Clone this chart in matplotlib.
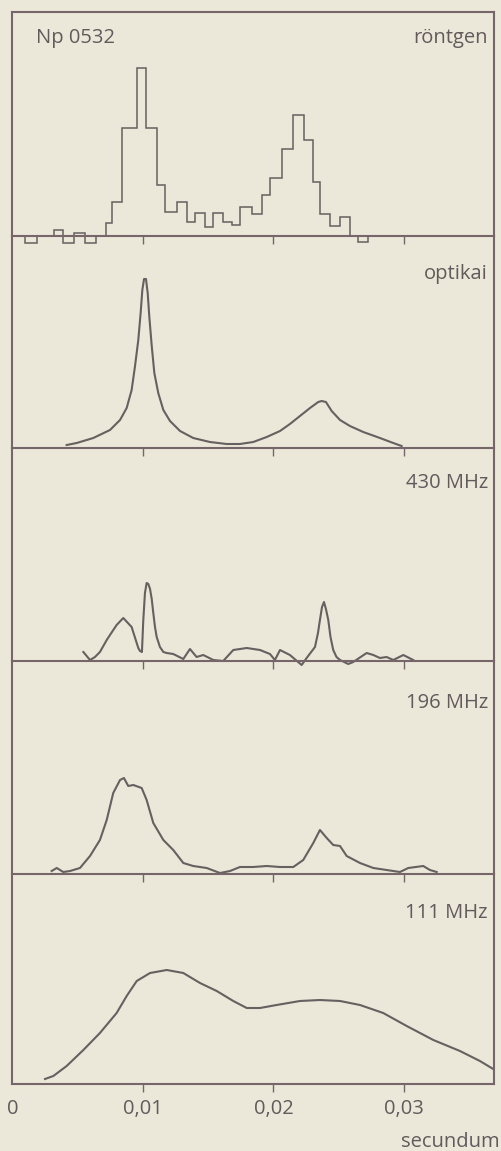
import matplotlib
matplotlib.use("Agg")
import matplotlib.pyplot as plt
import numpy as np

plt.rcParams['font.family'] = ['Open Sans', 'DejaVu Sans']

# ---------------- data (time in seconds, intensity in arbitrary units) -------------
xray_edges = [0.00096, 0.00188, 0.00318, 0.00387, 0.00471, 0.00556, 0.00640, 0.00716,
              0.00762, 0.00839, 0.00954, 0.01023, 0.01107, 0.01169, 0.01261, 0.01338,
              0.01398, 0.01475, 0.01536, 0.01613, 0.01682, 0.01743, 0.01835, 0.01912,
              0.01973, 0.02065, 0.02149, 0.02234, 0.02303, 0.02356, 0.02433, 0.02510,
              0.02586, 0.02648, 0.02724]
xray_counts = [-7, 0, 6, -7, 3, -7, 0, 13, 34, 108, 168, 108, 51, 24, 34, 14, 23, 9,
               23, 14, 11, 29, 22, 41, 58, 87, 121, 96, 54, 22, 10, 19, 0, -6]

opt_t = [0.00415, 0.00492, 0.00619, 0.00747, 0.00824, 0.00875, 0.00913, 0.00939,
         0.00964, 0.00982, 0.00995, 0.01008, 0.01023, 0.01036, 0.01048, 0.01067,
         0.01087, 0.01117, 0.01156, 0.01207, 0.01284, 0.01385, 0.01513, 0.01641,
         0.01743, 0.01845, 0.01948, 0.02050, 0.02126, 0.02203, 0.02280, 0.02343,
         0.02369, 0.02402, 0.02446, 0.02510, 0.02586, 0.02688, 0.02816, 0.02918,
         0.02982]
opt_v = [3, 5, 10, 18, 28, 40, 58, 82, 108, 135, 158, 169, 169, 155, 132, 102,
         75, 55, 38, 27, 17, 10, 6, 4, 4, 6, 11, 17, 24, 32, 40, 46,
         47, 46, 37, 28, 22, 16, 10, 5, 2]

r430_t = [0.00543, 0.00594, 0.00632, 0.00670, 0.00722, 0.00747, 0.00798, 0.00849,
          0.00913, 0.00964, 0.00977, 0.00992, 0.01002, 0.01015, 0.01028, 0.01041,
          0.01054, 0.01067, 0.01079, 0.01092, 0.01105, 0.01130, 0.01156, 0.01182,
          0.01232, 0.01309, 0.01360, 0.01411, 0.01462, 0.01539, 0.01615, 0.01692,
          0.01795, 0.01897, 0.01973, 0.02011, 0.02050, 0.02126, 0.02216, 0.02254,
          0.02318, 0.02341, 0.02356, 0.02372, 0.02387, 0.02402, 0.02420, 0.02437,
          0.02458, 0.02483, 0.02510, 0.02573, 0.02611, 0.02714, 0.02765, 0.02816,
          0.02867, 0.02918, 0.02995, 0.03071]
r430_v = [9, 1, 4, 9, 21, 26, 36, 43, 34, 13, 10, 9, 40, 68, 78, 77,
          72, 62, 48, 34, 24, 14, 9, 8, 7, 2, 12, 4, 6, 1, 0, 11,
          13, 11, 7, 1, 11, 6, -4, 3, 14, 28, 41, 54, 59, 52, 41, 24,
          11, 4, 1, -3, -1, 8, 6, 3, 4, 1, 6, 1]

r196_t = [0.00300, 0.00339, 0.00389, 0.00441, 0.00517, 0.00594, 0.00670, 0.00722,
          0.00772, 0.00824, 0.00854, 0.00887, 0.00926, 0.00990, 0.01028, 0.01079,
          0.01156, 0.01232, 0.01309, 0.01385, 0.01488, 0.01590, 0.01667, 0.01743,
          0.01845, 0.01948, 0.02050, 0.02152, 0.02228, 0.02305, 0.02356, 0.02408,
          0.02458, 0.02510, 0.02561, 0.02663, 0.02765, 0.02867, 0.02969, 0.03033,
          0.03148, 0.03199, 0.03251]
r196_v = [3, 6, 2, 3, 6, 18, 34, 54, 81, 94, 96, 88, 89, 86, 74, 51,
          34, 24, 11, 8, 6, 1, 3, 7, 7, 8, 7, 7, 14, 31, 44, 36,
          29, 28, 18, 11, 6, 4, 2, 6, 8, 4, 2]

r111_t = [0.00249, 0.00313, 0.00415, 0.00543, 0.00670, 0.00798, 0.00875, 0.00952,
          0.01054, 0.01182, 0.01309, 0.01437, 0.01565, 0.01692, 0.01795, 0.01897,
          0.02024, 0.02203, 0.02356, 0.02510, 0.02663, 0.02841, 0.03021, 0.03225,
          0.03429, 0.03582, 0.03684]
r111_v = [5, 8, 18, 34, 51, 71, 88, 103, 111, 114, 111, 101, 93, 83, 76, 76,
          79, 83, 84, 83, 79, 71, 58, 44, 33, 23, 15]

panel_labels = ["röntgen", "optikai", "430 MHz", "196 MHz", "111 MHz"]
source_name = "Np 0532"
tick_values = [0, 0.01, 0.02, 0.03]
tick_labels = ["0", "0,01", "0,02", "0,03"]
x_unit = "secundum"

# ---------------- style / layout ----------------
W, H = 502, 1151
bg = '#ebe7d9'
frame_c = '#76666a'
line_c = '#666060'
text_c = '#635a5c'
x_right = 0.0369
fs = 14.5

# panel edges in pixel rows (top, bottom)
rows = [(12, 236), (236, 448), (448, 661), (661, 874), (874, 1084)]
left_px, right_px = 12.5, 494

fig = plt.figure(figsize=(W / 100, H / 100), dpi=100, facecolor=bg)

axes = []
for i, (top, bot) in enumerate(rows):
    ax = fig.add_axes([left_px / W, 1 - bot / H, (right_px - left_px) / W, (bot - top) / H])
    ax.set_facecolor('none')
    ax.set_xlim(0, x_right)
    ax.set_ylim(0, bot - top)
    for s in ax.spines.values():
        s.set_color(frame_c)
        s.set_linewidth(1.5)
    if i > 0:
        ax.spines['top'].set_visible(False)
    ax.set_yticks([])
    ax.set_xticks(tick_values)
    ax.xaxis.get_major_ticks()[0].tick1line.set_visible(False)
    ax.tick_params(axis='x', direction='out', length=5.5, width=1.0, color=frame_c,
                   pad=5, labelsize=fs, labelcolor=text_c)
    if i < 4:
        ax.set_xticklabels([])
    else:
        ax.set_xticklabels(tick_labels)
    axes.append(ax)

lw = 1.5
axes[0].stairs(xray_counts, xray_edges, baseline=0, color=line_c, lw=1.1, clip_on=False)
axes[1].plot(opt_t, opt_v, color=line_c, lw=lw, clip_on=False, solid_joinstyle='round')
axes[2].plot(r430_t, r430_v, color=line_c, lw=lw, clip_on=False, solid_joinstyle='round')
axes[3].plot(r196_t, r196_v, color=line_c, lw=lw, clip_on=False, solid_joinstyle='round')
axes[4].plot(r111_t, r111_v, color=line_c, lw=lw, clip_on=False, solid_joinstyle='round')

# labels (pixel positions of baselines)
label_base = [43, 279, 488, 708, 918]
for lab, yb in zip(panel_labels, label_base):
    fig.text(488 / W, 1 - yb / H, lab, ha='right', va='baseline', fontsize=fs, color=text_c)
fig.text(36 / W, 1 - 43 / H, source_name, ha='left', va='baseline', fontsize=fs, color=text_c)
fig.text(500 / W, 1 - 1147 / H, x_unit, ha='right', va='baseline', fontsize=fs, color=text_c)

fig.savefig('out.png', dpi=100, facecolor=bg)
